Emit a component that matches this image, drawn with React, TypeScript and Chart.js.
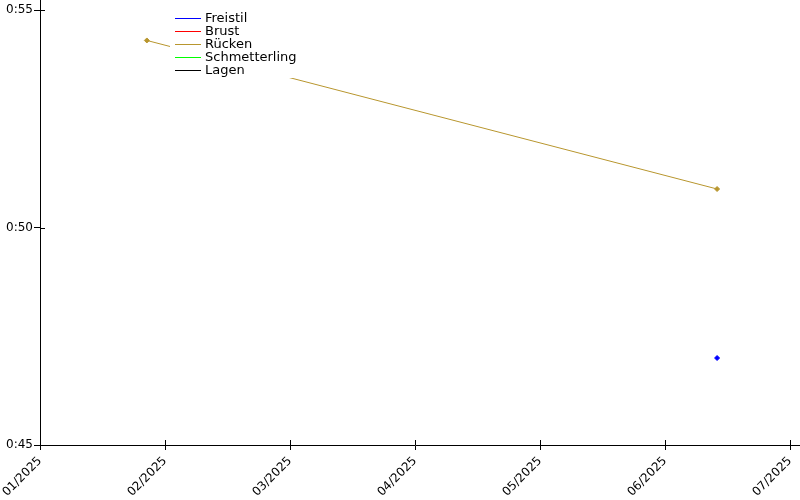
import React, { useEffect, useRef } from "react";
import { Chart, registerables } from "chart.js";

Chart.register(...registerables);

const seriesNames = ["Freistil", "Brust", "Rücken", "Schmetterling", "Lagen"];
const seriesColors = ["#0000ff", "#ff0000", "#b8962e", "#00ff00", "#000000"];
const freistilDates = ["2025-06-13T12:00"];
const freistilSeconds = [47.0];
const brustDates: string[] = [];
const brustSeconds: number[] = [];
const rueckenDates = ["2025-01-27T12:00", "2025-06-13T12:00"];
const rueckenSeconds = [54.3, 50.885];
const schmetterlingDates: string[] = [];
const schmetterlingSeconds: number[] = [];
const lagenDates: string[] = [];
const lagenSeconds: number[] = [];
const xTickLabels = ["01/2025", "02/2025", "03/2025", "04/2025", "05/2025", "06/2025", "07/2025"];
const yTicks = [45, 50, 55];

function monthPos(s: string): number {
  const d = new Date(s);
  const start = new Date(d.getFullYear(), d.getMonth(), 1).getTime();
  const end = new Date(d.getFullYear(), d.getMonth() + 1, 1).getTime();
  return d.getMonth() + (d.getTime() - start) / (end - start);
}

const allDates = [freistilDates, brustDates, rueckenDates, schmetterlingDates, lagenDates];
const allSecs = [freistilSeconds, brustSeconds, rueckenSeconds, schmetterlingSeconds, lagenSeconds];

const FONT = "DejaVu Sans";

const innerTicks = {
  id: "innerTicks",
  afterDraw(chart: any) {
    const ctx = chart.ctx;
    const xs = chart.scales.x;
    const ys = chart.scales.y;
    ctx.save();
    ctx.strokeStyle = "#000";
    ctx.lineWidth = 1;
    ctx.beginPath();
    for (let i = 0; i < xTickLabels.length; i++) {
      const px = Math.round(xs.getPixelForValue(i)) + 0.5;
      ctx.moveTo(px, ys.bottom);
      ctx.lineTo(px, ys.bottom - 5);
    }
    for (const v of yTicks) {
      const py = Math.round(ys.getPixelForValue(v)) + 0.5;
      ctx.moveTo(xs.left, py);
      ctx.lineTo(xs.left + 5, py);
    }
    // axis extensions
    const ax = Math.round(xs.left) + 0.5;
    ctx.moveTo(ax, 0);
    ctx.lineTo(ax, ys.top);
    const ay = Math.round(ys.bottom) + 0.5;
    ctx.moveTo(xs.right, ay);
    ctx.lineTo(chart.width, ay);
    ctx.stroke();
    // legend box
    const lx = 170, ly = 8;
    ctx.fillStyle = "#fff";
    ctx.fillRect(lx, ly, 126, 70);
    ctx.font = `13px '${FONT}'`;
    ctx.textBaseline = "middle";
    ctx.textAlign = "left";
    seriesNames.forEach((n, i) => {
      const y = 18 + i * 13 + 0.5;
      ctx.strokeStyle = seriesColors[i];
      ctx.beginPath();
      ctx.moveTo(175, y);
      ctx.lineTo(201, y);
      ctx.stroke();
      ctx.fillStyle = "#000";
      ctx.fillText(n, 205, y);
    });
    ctx.restore();
  },
};

export default function App() {
  const ref = useRef<HTMLCanvasElement>(null);
  useEffect(() => {
    document.body.style.margin = "0";
    const datasets = seriesNames.map((n, i) => ({
      label: n,
      data: allDates[i].map((d, j) => ({ x: monthPos(d), y: allSecs[i][j] })),
      borderColor: seriesColors[i],
      backgroundColor: seriesColors[i],
      borderWidth: 1,
      pointStyle: "rectRot" as const,
      pointRadius: 2.5,
      pointBorderWidth: 1,
      showLine: true,
    }));
    const chart = new Chart(ref.current!, {
      type: "scatter",
      data: { datasets },
      options: {
        animation: false,
        responsive: false,
        layout: { padding: { top: 10, right: 10, left: 0, bottom: 0 } },
        plugins: { legend: { display: false }, tooltip: { enabled: false } },
        scales: {
          x: {
            type: "linear",
            min: 0,
            max: 6,
            grid: { drawOnChartArea: false, drawTicks: true, tickLength: 5, color: "#000" },
            border: { color: "#000", width: 1 },
            afterBuildTicks: (s: any) => {
              s.ticks = xTickLabels.map((_, i) => ({ value: i }));
            },
            afterFit: (s: any) => {
              s.height = 55;
              s.paddingLeft = 0;
              s.paddingRight = 0;
            },
            ticks: {
              autoSkip: false,
              maxRotation: 45,
              minRotation: 45,
              padding: 4,
              color: "#000",
              font: { family: FONT, size: 12 },
              callback: (v: any) => xTickLabels[Math.round(Number(v))],
            },
          },
          y: {
            min: 45,
            max: 55,
            grid: { drawOnChartArea: false, drawTicks: true, tickLength: 6, color: "#000" },
            border: { color: "#000", width: 1 },
            afterBuildTicks: (s: any) => {
              s.ticks = yTicks.map((v) => ({ value: v }));
            },
            afterFit: (s: any) => {
              s.width = 40;
              s.paddingTop = 0;
              s.paddingBottom = 0;
            },
            ticks: {
              padding: 1,
              color: "#000",
              font: { family: FONT, size: 12 },
              callback: (v: any) => "0:" + String(v),
            },
          },
        },
      },
      plugins: [innerTicks],
    });
    return () => chart.destroy();
  }, []);
  return (
    <div style={{ width: 800, height: 500 }}>
      <canvas ref={ref} width={800} height={500} />
    </div>
  );
}
